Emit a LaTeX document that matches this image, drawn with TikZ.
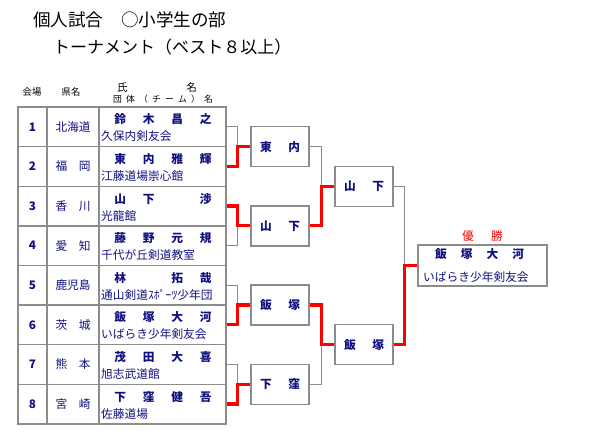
\documentclass[tikz,border=0pt]{standalone}
\usepackage{fontspec}
\setmainfont{Noto Sans CJK JP}
\usepackage{xcolor}
\usepackage{tikz}
\usetikzlibrary{positioning,calc}
\definecolor{entrynavy}{RGB}{16,16,128}
\definecolor{linegray}{RGB}{140,140,140}
\definecolor{winred}{RGB}{255,0,0}
\tikzset{
  cell/.style={draw=linegray, line width=1.2pt, minimum height=1.188cm, inner sep=0pt, text=entrynavy},
  matchbox/.style={draw=linegray, line width=1.2pt, fill=white, minimum width=1.74cm, minimum height=1.2cm,
                   inner sep=0pt, text=entrynavy, font=\fontsize{10}{12}\selectfont\bfseries},
  loseline/.style={draw=linegray, line width=0.8pt},
  winline/.style={draw=winred, line width=2.6pt},
}
\newcommand{\spreadtxt}[2]{\makebox[#1][s]{#2}}
\newcommand{\entrant}[5]{%
  \node[cell, minimum width=0.87cm] (no#1) at (32.5,#2) {\fontsize{10}{12}\selectfont\bfseries #1};
  \node[cell, minimum width=1.56cm] (pf#1) at (73,#2) {\fontsize{10}{12}\selectfont\spreadtxt{1.05cm}{#3}};
  \node[cell, minimum width=3.81cm] (p#1) at (162.5,#2) {};
  \node[text=entrynavy, inner sep=0pt] (nm#1) at (163,#2-7.3) {\fontsize{10}{12}\selectfont\bfseries\spreadtxt{2.91cm}{#4}};
  \node[text=entrynavy, inner sep=0pt, anchor=west] (tm#1) at (101,#2+9.7) {\fontsize{10}{12}\selectfont #5};}
\newcommand{\bout}[3]{%
  \draw[loseline] (#1.east) -| ($(#3.west)+(-13,0)$);
  \draw[winline] (#2.east) -| ($(#3.west)+(-13,0)$) -- (#3.west);}

\begin{document}
\begin{tikzpicture}[x=0.03cm, y=-0.03cm]
  \useasboundingbox (0,0) rectangle (600,440);
  \node[anchor=west, inner sep=0pt] (title) at (33,20) {\fontsize{15}{18}\selectfont 個人試合　○小学生の部};
  \node[anchor=west, inner sep=0pt] (subtitle) at (53,47) {\fontsize{14.5}{17}\selectfont トーナメント（ベスト８以上）};
  \node[inner sep=0pt] (hvenue) at (32,92) {\fontsize{8}{10}\selectfont 会場};
  \node[inner sep=0pt] (hpref) at (71,92) {\fontsize{8}{10}\selectfont 県名};
  \node[inner sep=0pt] (hname) at (157,87) {\fontsize{9}{11}\selectfont\spreadtxt{2.4cm}{氏\hfill 名}};
  \node[inner sep=0pt] (hteam) at (163,99) {\fontsize{7.5}{9}\selectfont\spreadtxt{3cm}{団\hfill 体\hfill （\hfill チ\hfill ー\hfill ム\hfill ）\hfill 名}};
  \entrant{1}{126.8}{北\hfill 海\hfill 道}{鈴\hfill 木\hfill 昌\hfill 之}{久保内剣友会}
  \entrant{2}{166.4}{福\hfill 岡}{東\hfill 内\hfill 雅\hfill 輝}{江藤道場崇心館}
  \entrant{3}{206.0}{香\hfill 川}{山\hfill 下\hfill\hphantom{渉}\hfill 渉}{光龍館}
  \entrant{4}{245.6}{愛\hfill 知}{藤\hfill 野\hfill 元\hfill 規}{千代が丘剣道教室}
  \entrant{5}{285.2}{鹿\hfill 児\hfill 島}{林\hfill\hphantom{林}\hfill 拓\hfill 哉}{通山剣道ｽﾎﾟｰﾂ少年団}
  \entrant{6}{324.8}{茨\hfill 城}{飯\hfill 塚\hfill 大\hfill 河}{いばらき少年剣友会}
  \entrant{7}{364.4}{熊\hfill 本}{茂\hfill 田\hfill 大\hfill 喜}{旭志武道館}
  \entrant{8}{404.0}{宮\hfill 崎}{下\hfill 窪\hfill 健\hfill 吾}{佐藤道場}
  \node[matchbox] (r1a) at (280,146.6) {\spreadtxt{1.2cm}{東\hfill 内}};
  \node[matchbox] (r1b) at (280,225.8) {\spreadtxt{1.2cm}{山\hfill 下}};
  \node[matchbox] (r1c) at (280,305.0) {\spreadtxt{1.2cm}{飯\hfill 塚}};
  \node[matchbox] (r1d) at (280,384.2) {\spreadtxt{1.2cm}{下\hfill 窪}};
  \node[matchbox] (r2a) at (364,186.2) {\spreadtxt{1.2cm}{山\hfill 下}};
  \node[matchbox] (r2b) at (364,344.6) {\spreadtxt{1.2cm}{飯\hfill 塚}};
  \node[matchbox, minimum width=3.87cm, minimum height=1.23cm] (champ) at (482.5,265.4) {};
  \node[text=entrynavy, inner sep=0pt] (champname) at (479.5,254) {\fontsize{10}{12}\selectfont\bfseries\spreadtxt{2.67cm}{飯\hfill 塚\hfill 大\hfill 河}};
  \node[text=entrynavy, inner sep=0pt, anchor=west] (champteam) at (423,277) {\fontsize{10}{12}\selectfont いばらき少年剣友会};
  \node[text=winred, inner sep=0pt] (yusho) at (482.5,236) {\fontsize{10}{12}\selectfont\spreadtxt{1.22cm}{優\hfill 勝}};
  \bout{p1}{p2}{r1a}
  \bout{p4}{p3}{r1b}
  \bout{p5}{p6}{r1c}
  \bout{p7}{p8}{r1d}
  \bout{r1a}{r1b}{r2a}
  \bout{r1d}{r1c}{r2b}
  \bout{r2a}{r2b}{champ}
\end{tikzpicture}
\end{document}
